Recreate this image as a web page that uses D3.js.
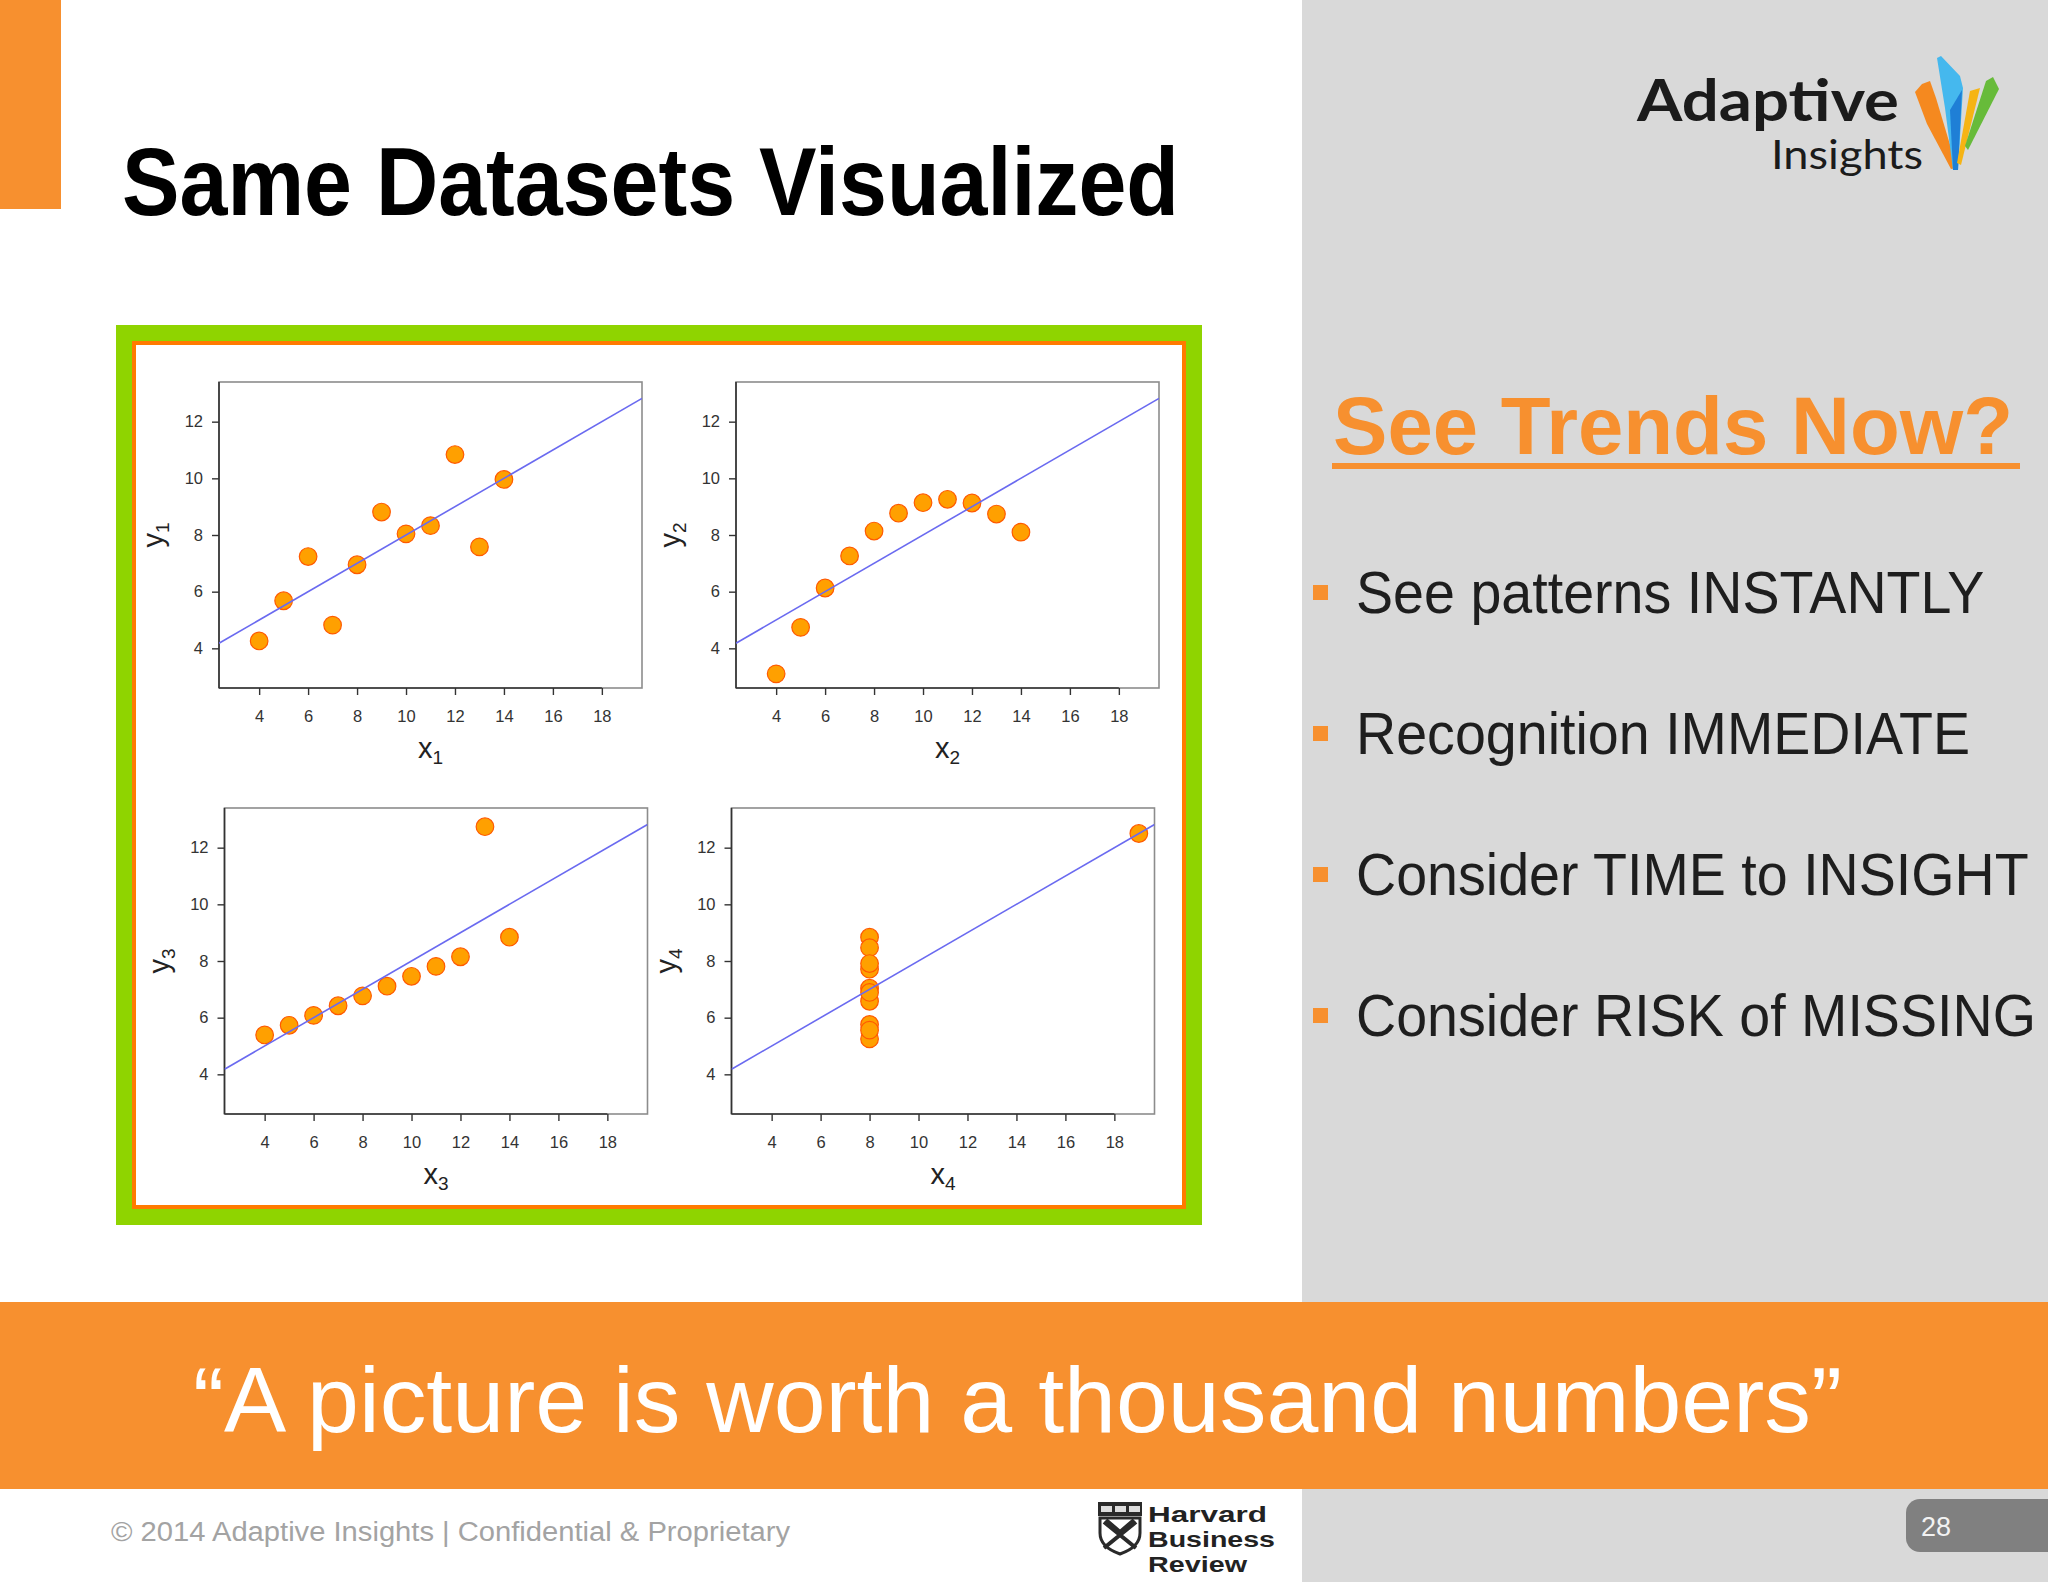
<!DOCTYPE html>
<html><head><meta charset="utf-8">
<script src="https://cdn.jsdelivr.net/npm/d3@7"></script>
<style>html,body{margin:0;padding:0;background:#fff;overflow:hidden;} svg{display:block;}</style>
</head><body>
<svg id="slide" width="2048" height="1582"></svg>
<script>
// ---------- data (Anscombe's quartet) ----------
const xShared = [10, 8, 13, 9, 11, 14, 6, 4, 12, 7, 5];
const y1 = [8.04, 6.95, 7.58, 8.81, 8.33, 9.96, 7.24, 4.26, 10.84, 4.82, 5.68];
const y2 = [9.14, 8.14, 8.74, 8.77, 9.26, 8.10, 6.13, 3.10, 9.13, 7.26, 4.74];
const y3 = [7.46, 6.77, 12.74, 7.11, 7.81, 8.84, 6.08, 5.39, 8.15, 6.42, 5.73];
const x4 = [8, 8, 8, 8, 8, 8, 8, 19, 8, 8, 8];
const y4 = [6.58, 5.76, 7.71, 8.84, 8.47, 7.04, 5.25, 12.50, 5.56, 7.91, 6.89];
const xTicks = [4, 6, 8, 10, 12, 14, 16, 18];
const yTicks = [4, 6, 8, 10, 12];
const xDomain = [2.36, 19.64];
const yDomain = [2.6, 13.4];
const fitIntercept = 3.0;
const fitSlope = 0.5;
const panelIds = ["1", "2", "3", "4"];
const titleText = "Same Datasets Visualized";
const sideTitle = "See Trends Now?";
const bullets = ["See patterns INSTANTLY", "Recognition IMMEDIATE", "Consider TIME to INSIGHT", "Consider RISK of MISSING"];
const quote = "\u201CA picture is worth a thousand numbers\u201D";
const footer = "\u00A9 2014 Adaptive Insights  |  Confidential & Proprietary";
const pageNo = "28";

// ---------- drawing ----------
const svg = d3.select("#slide");
const ORANGE = "#f7902f";
const GRAY = "#d9d9d9";
const SANS = "'Liberation Sans', Arial, Helvetica, sans-serif";

function fit(sel, w) {
  sel.attr("textLength", w).attr("lengthAdjust", "spacingAndGlyphs");
  return sel;
}

// backgrounds
svg.append("rect").attr("x", 0).attr("y", 0).attr("width", 2048).attr("height", 1582).attr("fill", "#fff");
svg.append("rect").attr("x", 1302).attr("y", 0).attr("width", 746).attr("height", 1582).attr("fill", GRAY);
svg.append("rect").attr("x", 0).attr("y", 1302).attr("width", 2048).attr("height", 187).attr("fill", ORANGE);
svg.append("rect").attr("x", 0).attr("y", 0).attr("width", 61).attr("height", 209).attr("fill", ORANGE);

// title
fit(svg.append("text").attr("x", 122).attr("y", 215)
  .attr("font-family", SANS).attr("font-weight", 700).attr("font-size", 97)
  .attr("fill", "#000").text(titleText), 1057);

// chart frame
svg.append("rect").attr("x", 116).attr("y", 325).attr("width", 1086).attr("height", 900).attr("fill", "#8fd400");
svg.append("rect").attr("x", 132).attr("y", 341).attr("width", 1054).attr("height", 868).attr("fill", "#ff7a00");
svg.append("rect").attr("x", 136).attr("y", 345).attr("width", 1046).attr("height", 860).attr("fill", "#fff");

const PW = 423, PH = 306;
const panels = [
  {xs: xShared, ys: y1, left: 219, top: 382},
  {xs: xShared, ys: y2, left: 736, top: 382},
  {xs: xShared, ys: y3, left: 224.5, top: 808},
  {xs: x4, ys: y4, left: 731.5, top: 808}
];

panels.forEach((p, i) => {
  const g = svg.append("g");
  const x = d3.scaleLinear().domain(xDomain).range([p.left, p.left + PW]);
  const y = d3.scaleLinear().domain(yDomain).range([p.top + PH, p.top]);
  const clipId = "clip" + i;
  svg.append("clipPath").attr("id", clipId).append("rect")
    .attr("x", p.left).attr("y", p.top).attr("width", PW).attr("height", PH);

  g.append("rect").attr("x", p.left).attr("y", p.top).attr("width", PW).attr("height", PH)
    .attr("fill", "#fff").attr("stroke", "#8c8c8c").attr("stroke-width", 1.6);

  // x axis
  const ax = g.append("g").attr("transform", `translate(0,${p.top + PH})`)
    .call(d3.axisBottom(x).tickValues(xTicks).tickSize(7).tickPadding(15));
  ax.select(".domain").remove();
  ax.attr("font-family", SANS).attr("font-size", 16.5);
  ax.selectAll("line").attr("stroke", "#333").attr("stroke-width", 1.4);
  ax.selectAll("text").attr("fill", "#333");
  g.append("line").attr("x1", p.left).attr("x2", x(xTicks[xTicks.length - 1]))
    .attr("y1", p.top + PH).attr("y2", p.top + PH).attr("stroke", "#333").attr("stroke-width", 1.6);

  // y axis
  const ay = g.append("g").attr("transform", `translate(${p.left},0)`)
    .call(d3.axisLeft(y).tickValues(yTicks).tickSize(7).tickPadding(9));
  ay.select(".domain").remove();
  ay.attr("font-family", SANS).attr("font-size", 16.5);
  ay.selectAll("line").attr("stroke", "#333").attr("stroke-width", 1.4);
  ay.selectAll("text").attr("fill", "#333");
  g.append("line").attr("x1", p.left).attr("x2", p.left)
    .attr("y1", p.top).attr("y2", p.top + PH).attr("stroke", "#333").attr("stroke-width", 1.6);

  // points
  g.append("g").selectAll("circle").data(d3.zip(p.xs, p.ys)).join("circle")
    .attr("cx", d => x(d[0])).attr("cy", d => y(d[1])).attr("r", 8.8)
    .attr("fill", "#ffa000").attr("stroke", "#ff5a00").attr("stroke-width", 1.2);

  // regression line
  g.append("line").attr("clip-path", `url(#${clipId})`)
    .attr("x1", x(xDomain[0])).attr("y1", y(fitIntercept + fitSlope * xDomain[0]))
    .attr("x2", x(xDomain[1])).attr("y2", y(fitIntercept + fitSlope * xDomain[1]))
    .attr("stroke", "#6a6af0").attr("stroke-width", 1.6);

  // axis titles
  const xt = g.append("text").attr("x", p.left + PW / 2).attr("y", p.top + PH + 70)
    .attr("text-anchor", "middle").attr("font-family", SANS).attr("fill", "#222");
  xt.append("tspan").attr("font-size", 29).text("x");
  xt.append("tspan").attr("font-size", 19).attr("dy", 6).text(panelIds[i]);

  const yt = g.append("text")
    .attr("transform", `translate(${p.left - 56},${p.top + PH / 2}) rotate(-90)`)
    .attr("text-anchor", "middle").attr("font-family", SANS).attr("fill", "#222");
  yt.append("tspan").attr("font-size", 29).text("y");
  yt.append("tspan").attr("font-size", 19).attr("dy", 6).text(panelIds[i]);
});

// logo
fit(svg.append("text").attr("x", 1637).attr("y", 121)
  .attr("font-family", "Lato, 'Open Sans', sans-serif").attr("font-weight", 700).attr("font-size", 58)
  .attr("fill", "#1b1b1b").text("Adaptive"), 262);
fit(svg.append("text").attr("x", 1771).attr("y", 169)
  .attr("font-family", "Lato, 'Open Sans', sans-serif").attr("font-weight", 400).attr("font-size", 40)
  .attr("fill", "#1b1b1b").text("Insights"), 152);
const icon = svg.append("g");
const ribbons = [
  {c: "#f5891f", pts: [[1915,92],[1922,84],[1930,81],[1936,98],[1957,168],[1951,169],[1927,124]]},
  {c: "#45b8ee", pts: [[1937,58],[1941,56],[1960,76],[1963,88],[1958,170],[1953,170],[1945,108]]},
  {c: "#1f7fd6", pts: [[1950,110],[1962,90],[1958,170],[1953,170]]},
  {c: "#f6b414", pts: [[1970,91],[1980,88],[1961,165],[1957,163]]},
  {c: "#67bb3a", pts: [[1986,81],[1993,77],[1999,89],[1968,150],[1965,146]]}
];
ribbons.forEach(r => icon.append("polygon").attr("points", r.pts.map(q => q.join(",")).join(" ")).attr("fill", r.c));

// side heading
fit(svg.append("text").attr("x", 1333).attr("y", 454)
  .attr("font-family", SANS).attr("font-weight", 700).attr("font-size", 81)
  .attr("fill", ORANGE).text(sideTitle), 680);
svg.append("rect").attr("x", 1332).attr("y", 463).attr("width", 688).attr("height", 6).attr("fill", ORANGE);

// bullets (horizontally condensed with a scale transform, like the slide)
const bulletG = svg.append("g");
const bTexts = bulletG.selectAll("text").data(bullets).join("text")
  .attr("x", 0).attr("y", 0)
  .attr("font-family", SANS).attr("font-size", 59).attr("fill", "#1e1e1e").text(d => d);
const naturals = bTexts.nodes().map(n => n.getComputedTextLength());
const factor = Math.min(636 / naturals[0], 680 / d3.max(naturals));
bTexts.attr("transform", (d, i) => `translate(1356,${613 + i * 141}) scale(${factor},1)`);
bulletG.selectAll("rect").data(bullets).join("rect")
  .attr("x", 1313).attr("y", (d, i) => 585 + i * 141).attr("width", 15).attr("height", 15).attr("fill", ORANGE);

// quote
fit(svg.append("text").attr("x", 193).attr("y", 1432)
  .attr("font-family", SANS).attr("font-size", 93).attr("fill", "#fff").text(quote), 1649);

// footer
fit(svg.append("text").attr("x", 111).attr("y", 1541)
  .attr("font-family", SANS).attr("font-size", 27).attr("fill", "#a3a3a3").text(footer), 679);

// HBR logo
const hbr = svg.append("g");
hbr.append("rect").attr("x", 1098).attr("y", 1502).attr("width", 44).attr("height", 14).attr("fill", "#2a2a2a");
[1101, 1115, 1129].forEach(bx => hbr.append("rect").attr("x", bx).attr("y", 1506).attr("width", 11).attr("height", 6).attr("fill", "#ddd"));
hbr.append("path").attr("d", "M1100,1518 L1140,1518 L1140,1533 Q1140,1547 1120,1554 Q1100,1547 1100,1533 Z")
  .attr("fill", "#fff").attr("stroke", "#2a2a2a").attr("stroke-width", 3);
hbr.append("path").attr("d", "M1104,1522 L1136,1548 M1136,1522 L1104,1548 M1106,1520 L1120,1532 L1134,1520")
  .attr("stroke", "#2a2a2a").attr("stroke-width", 4).attr("fill", "none");
[["Harvard", 1522, 119], ["Business", 1547, 127], ["Review", 1572, 99]].forEach(t =>
  fit(hbr.append("text").attr("x", 1148).attr("y", t[1]).attr("font-family", SANS)
    .attr("font-weight", 900).attr("font-size", 22).attr("fill", "#222").text(t[0]), t[2]));

// page number tab
svg.append("rect").attr("x", 1906).attr("y", 1499).attr("width", 170).attr("height", 53).attr("rx", 14).attr("fill", "#808080");
svg.append("text").attr("x", 1921).attr("y", 1536).attr("font-family", SANS).attr("font-size", 27)
  .attr("fill", "#f2f2f2").text(pageNo);
</script>
</body></html>
